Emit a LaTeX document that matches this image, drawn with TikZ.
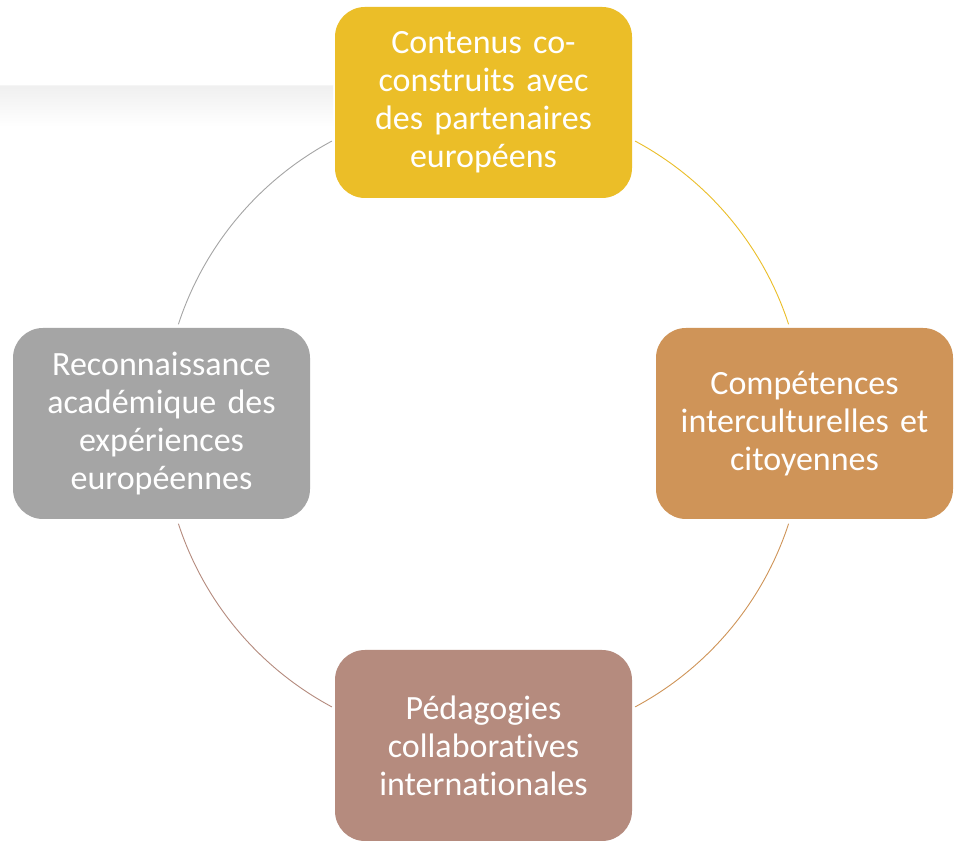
\documentclass[tikz,border=0pt]{standalone}
\usepackage{fontspec}
\usetikzlibrary{calc}
\setmainfont{Carlito}[Ligatures={NoCommon}]
\definecolor{cyellow}{HTML}{EBBE28}
\definecolor{corange}{HTML}{CF9458}
\definecolor{cbrown}{HTML}{B58B7E}
\definecolor{cgray}{HTML}{A5A5A5}
\tikzset{
  box/.style={rectangle, rounded corners=30pt, minimum width=297pt, minimum height=191pt,
    inner sep=0pt, text=white, align=center, text width=285pt,
    font=\fontsize{34}{38}\selectfont},
  ring/.style={line width=0.9pt}
}
\begin{document}
\begin{tikzpicture}[x=1pt,y=1pt]
\useasboundingbox (0,0) rectangle (956,842);
\fill[white] (0,0) rectangle (956,842);
% faint band top-left
\shade[top color=black!6, bottom color=white] (0,756) rectangle (333,715);
\draw[black!4, line width=0.8pt] (0,756.5) -- (333,756.5);
% nodes
\node[box, fill=cyellow] (top) at (483.5,739.5) {Contenus co-\\construits avec\\des partenaires\\européens};
\node[box, fill=corange] (right) at (804.5,418.5) {Compétences\\interculturelles et\\citoyennes};
\node[box, fill=cbrown] (bottom) at (483.5,96.5) {Pédagogies\\collaboratives\\internationales};
\node[box, fill=cgray] (left) at (161.5,418.5) {Reconnaissance\\académique des\\expériences\\européennes};
% arc endpoints
\coordinate (c) at (483.5,418);
\coordinate (a1) at ($(c)+(61.8:321)$);
\coordinate (a2) at ($(c)+(-18.1:321)$);
\coordinate (a3) at ($(c)+(-118.2:321)$);
\coordinate (a4) at ($(c)+(161.9:321)$);
\draw[ring, cyellow] (a1) arc[start angle=61.8, end angle=18.1, radius=321];
\draw[ring, corange] (a2) arc[start angle=-18.1, end angle=-61.8, radius=321];
\draw[ring, cbrown] (a3) arc[start angle=-118.2, end angle=-161.9, radius=321];
\draw[ring, cgray] (a4) arc[start angle=161.9, end angle=118.2, radius=321];
\end{tikzpicture}
\end{document}
